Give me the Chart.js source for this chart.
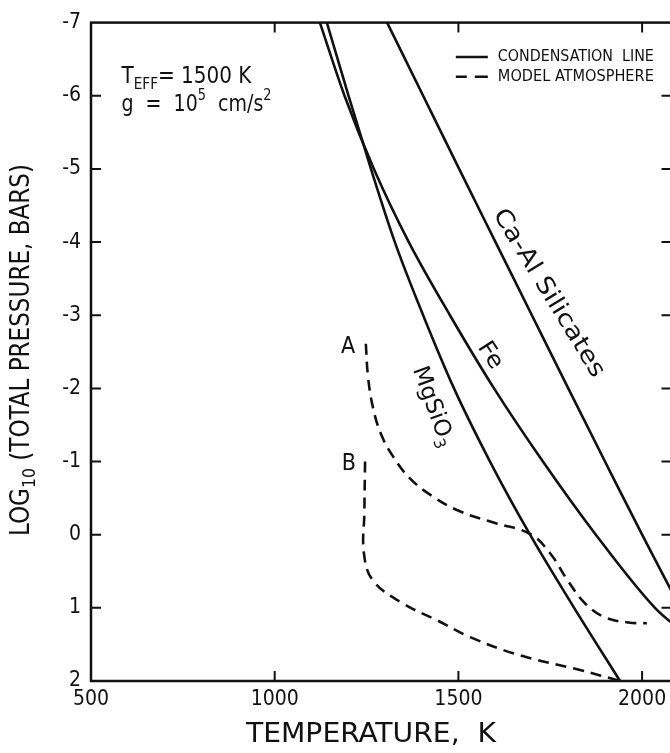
<!DOCTYPE html>
<html>
<head>
<meta charset="utf-8">
<script src="https://cdn.jsdelivr.net/npm/chart.js@4.4.0/dist/chart.umd.min.js"></script>
<style>
html,body{margin:0;padding:0;background:#fff;overflow:hidden;}
#chart{display:block;}
</style>
</head>
<body>
<canvas id="chart" width="680" height="753"></canvas>
<script>
// axis ticks
var tempTicks = [500, 1000, 1500, 2000];
var pressureTicks = [-7, -6, -5, -4, -3, -2, -1, 0, 1, 2];

// condensation lines (T in K, log10 P in bars)
var caAlT = [1306, 1404, 1502, 1601, 1700, 1799, 1899, 2000, 2078, 2104];
var caAlP = [-7, -6, -5, -4, -3, -2, -1, 0, 0.75, 1.0];
var feT = [1123, 1190, 1270, 1365, 1477, 1597, 1730, 1874, 2035, 2103];
var feP = [-7, -6, -5, -4, -3, -2, -1, 0, 1, 1.3];
var mgT = [1142, 1201, 1262, 1327, 1404, 1488, 1586, 1695, 1815, 1940];
var mgP = [-7, -6, -5, -4, -3, -2, -1, 0, 1, 2];

// model atmospheres A and B
var atmAT = [1248, 1254, 1267, 1289, 1322, 1368, 1428, 1504, 1600, 1695, 1749, 1798, 1845, 1899, 1962, 2013];
var atmAP = [-2.61, -2.16, -1.75, -1.38, -1.07, -0.77, -0.53, -0.32, -0.16, -0.01, 0.25, 0.63, 0.94, 1.13, 1.20, 1.21];
var atmBT = [1246, 1244, 1243, 1268, 1349, 1442, 1532, 1668, 1831, 1940];
var atmBP = [-1.0, -0.3, 0.26, 0.63, 0.94, 1.17, 1.40, 1.65, 1.85, 2.0];

var FONT = '"DejaVu Sans Condensed", "Liberation Sans Narrow", sans-serif';
var INK = '#111';

function pts(xs, ys){
	var out = [];
	for (var i = 0; i < xs.length; i++) out.push({x: xs[i], y: ys[i]});
	return out;
}

function curve(xs, ys, dashed, smooth){
	var ds = {
		data: pts(xs, ys),
		showLine: true,
		borderColor: INK,
		borderWidth: 2.6,
		borderDash: dashed ? [11, 7] : [],
		pointRadius: 0,
		fill: false
	};
	if (smooth) ds.cubicInterpolationMode = 'monotone';
	else ds.tension = 0.4;
	return ds;
}

//draw text made of parts, some of them sub or superscript
function richText(ctx, parts, x, y, size){
	var cx = x;
	parts.forEach(function(p){
		var s = size, dy = 0;
		if (p.sub){ s = size * 0.68; dy = size * 0.32; }
		if (p.sup){ s = size * 0.68; dy = -size * 0.42; }
		ctx.font = s + 'px ' + FONT;
		ctx.fillText(p.t, cx, y + dy);
		cx += ctx.measureText(p.t).width;
	});
	return cx - x;
}

function richWidth(ctx, parts, size){
	var w = 0;
	parts.forEach(function(p){
		var s = (p.sub || p.sup) ? size * 0.68 : size;
		ctx.font = s + 'px ' + FONT;
		w += ctx.measureText(p.t).width;
	});
	return w;
}

//text centred at x,y, turned by deg and stretched to a given length
function fitText(ctx, parts, x, y, deg, size, len){
	ctx.save();
	ctx.translate(x, y);
	ctx.rotate(deg * Math.PI / 180);
	ctx.textBaseline = 'middle';
	ctx.textAlign = 'left';
	var w = richWidth(ctx, parts, size);
	var k = len ? len / w : 1;
	ctx.scale(k, 1);
	richText(ctx, parts, -w / 2, 0, size);
	ctx.restore();
}

var framePlugin = {
	id: 'frame',
	afterDraw: function(chart){
		var ctx = chart.ctx, a = chart.chartArea;
		var xs = chart.scales.x, ys = chart.scales.y;
		ctx.save();
		ctx.strokeStyle = INK;
		ctx.fillStyle = INK;
		ctx.lineWidth = 2.5;
		ctx.strokeRect(a.left, a.top, a.right - a.left, a.bottom - a.top);

		// inward ticks on all four sides
		ctx.lineWidth = 2;
		ctx.beginPath();
		tempTicks.forEach(function(v){
			if (v === xs.min) return;
			var px = xs.getPixelForValue(v);
			ctx.moveTo(px, a.bottom); ctx.lineTo(px, a.bottom - 10);
			ctx.moveTo(px, a.top); ctx.lineTo(px, a.top + 10);
		});
		pressureTicks.forEach(function(v){
			if (v === ys.min || v === ys.max) return;
			var py = ys.getPixelForValue(v);
			ctx.moveTo(a.left, py); ctx.lineTo(a.left + 10, py);
			ctx.moveTo(a.right, py); ctx.lineTo(a.right - 10, py);
		});
		ctx.stroke();

		// axis titles
		fitText(ctx, [{t: 'TEMPERATURE,  K'}], 371, 735, 0, 26, 250);
		fitText(ctx, [{t: 'LOG'}, {t: '10', sub: true}, {t: ' (TOTAL PRESSURE, BARS)'}], 22, 350, -90, 26, 372);

		// parameters of the model
		var tx = xs.getPixelForValue(583);
		fitText(ctx, [{t: 'T'}, {t: 'EFF', sub: true}, {t: '= 1500 K'}], tx + 65, ys.getPixelForValue(-6.25), 0, 23, 130);
		fitText(ctx, [{t: 'g  =  10'}, {t: '5', sup: true}, {t: '  cm/s'}, {t: '2', sup: true}], tx + 75, ys.getPixelForValue(-5.87), 0, 23, 150);

		// legend
		var lx = xs.getPixelForValue(1493), ly1 = ys.getPixelForValue(-6.53), ly2 = ys.getPixelForValue(-6.26);
		ctx.lineWidth = 2.6;
		ctx.beginPath();
		ctx.moveTo(lx, ly1); ctx.lineTo(lx + 32, ly1);
		ctx.moveTo(lx, ly2); ctx.lineTo(lx + 11, ly2);
		ctx.moveTo(lx + 19, ly2); ctx.lineTo(lx + 32, ly2);
		ctx.stroke();
		fitText(ctx, [{t: 'CONDENSATION  LINE'}], lx + 42 + 78, ly1, 0, 16, 156);
		fitText(ctx, [{t: 'MODEL ATMOSPHERE'}], lx + 42 + 78, ly2, 0, 16, 156);

		// curve labels
		fitText(ctx, [{t: 'Ca-Al Silicates'}], xs.getPixelForValue(1745), ys.getPixelForValue(-3.3), 58.5, 24, 193);
		fitText(ctx, [{t: 'Fe'}], xs.getPixelForValue(1586), ys.getPixelForValue(-2.45), 57, 23, 28);
		fitText(ctx, [{t: 'MgSiO'}, {t: '3', sub: true}], xs.getPixelForValue(1430), ys.getPixelForValue(-1.75), 70, 23, 84);
		fitText(ctx, [{t: 'A'}], xs.getPixelForValue(1200), ys.getPixelForValue(-2.57), 0, 23);
		fitText(ctx, [{t: 'B'}], xs.getPixelForValue(1202), ys.getPixelForValue(-0.96), 0, 23);
		ctx.restore();
	}
};

new Chart(document.getElementById('chart'), {
	type: 'scatter',
	data: {
		datasets: [
			curve(caAlT, caAlP, false, true),
			curve(feT, feP, false, true),
			curve(mgT, mgP, false, true),
			curve(atmAT, atmAP, true, false),
			curve(atmBT, atmBP, true, false)
		]
	},
	options: {
		responsive: false,
		animation: false,
		layout: {padding: {top: 18, right: 8.5, left: 0, bottom: 0}},
		plugins: {legend: {display: false}, tooltip: {enabled: false}},
		scales: {
			x: {
				type: 'linear', min: 500, max: 2080,
				afterBuildTicks: function(s){ s.ticks = tempTicks.map(function(v){ return {value: v}; }); },
				afterFit: function(s){ s.height = 72; },
				grid: {display: false, drawTicks: false},
				border: {display: false},
				ticks: {color: INK, padding: 6, font: {family: FONT, size: 21}, maxRotation: 0,
					callback: function(v){ return String(v); }}
			},
			y: {
				type: 'linear', min: -7, max: 2, reverse: true,
				afterBuildTicks: function(s){ s.ticks = pressureTicks.map(function(v){ return {value: v}; }); },
				afterFit: function(s){ s.width = 91; },
				grid: {display: false, drawTicks: false},
				border: {display: false},
				ticks: {color: INK, padding: 10, font: {family: FONT, size: 21},
					callback: function(v){ return String(v); }}
			}
		}
	},
	plugins: [framePlugin]
});
</script>
</body>
</html>
